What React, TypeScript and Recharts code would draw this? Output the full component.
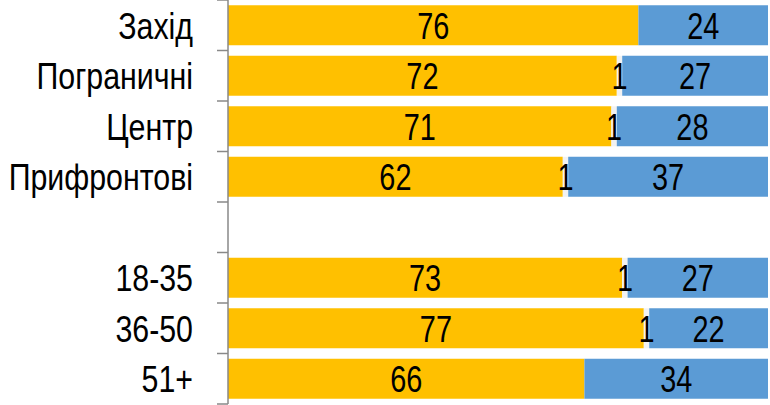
import { BarChart, Bar, XAxis, YAxis, LabelList } from "recharts";

// rows, top to bottom (empty row is the spacer between the two groups)
const groups = ["Захід", "Пограничні", "Центр", "Прифронтові", "", "18-35", "36-50", "51+"];
const yesShare = [76, 72, 71, 62, null, 73, 77, 66];
const unsureShare = [0, 1, 1, 1, null, 1, 1, 0];
const noShare = [24, 27, 28, 37, null, 27, 22, 34];

const data = groups.map((group, i) => ({
  group,
  yes: yesShare[i],
  unsure: unsureShare[i],
  no: noShare[i],
}));

const FONT = "'Liberation Sans', Arial, sans-serif";
const FONT_SIZE = 37;
const CHART_W = 768;
const CHART_H = 405;
const PLOT_H = 404;
const BAND = PLOT_H / groups.length;
const AXIS_GRAY = "#898989";

// no Arial Narrow installed, so squeeze Liberation Sans horizontally
function NarrowText({ x, y, anchor, squeeze, children }: any) {
  return (
    <text
      transform={`translate(${x},${y}) scale(${squeeze},1)`}
      dy="0.36em"
      textAnchor={anchor}
      fontSize={FONT_SIZE}
      fontFamily={FONT}
      fill="#000"
    >
      {children}
    </text>
  );
}

function GroupTick(props: any) {
  const { x, y, payload, index } = props;
  const half = BAND / 2;
  return (
    <g>
      <line x1={x - 11} x2={x} y1={y - half} y2={y - half} stroke={AXIS_GRAY} strokeWidth={1.5} />
      {index === groups.length - 1 && (
        <line x1={x - 11} x2={x} y1={y + half} y2={y + half} stroke={AXIS_GRAY} strokeWidth={1.5} />
      )}
      <NarrowText x={x - 35} y={y} anchor="end" squeeze={0.82}>
        {payload.value}
      </NarrowText>
    </g>
  );
}

function BarValue(props: any) {
  const { x, y, width, height, value } = props;
  if (value === null || value === undefined || value === 0) return null;
  return (
    <NarrowText x={x + width / 2} y={y + height / 2} anchor="middle" squeeze={0.78}>
      {value}
    </NarrowText>
  );
}

export default function App() {
  return (
    <div
      style={{
        position: "absolute",
        left: 0,
        top: 0,
        width: 770,
        height: 405,
        overflow: "hidden",
        background: "#fff",
      }}
    >
      <BarChart
        width={CHART_W}
        height={CHART_H}
        data={data}
        layout="vertical"
        margin={{ top: 0, right: 0, bottom: 1, left: 0 }}
        barCategoryGap="10.5%"
      >
        <XAxis type="number" hide domain={[0, 100]} allowDataOverflow />
        <YAxis
          type="category"
          dataKey="group"
          width={228}
          interval={0}
          tickLine={false}
          tickSize={0}
          tickMargin={0}
          axisLine={{ stroke: AXIS_GRAY, strokeWidth: 1.5 }}
          tick={<GroupTick />}
        />
        <Bar dataKey="yes" stackId="s" fill="#FFC000" isAnimationActive={false}>
          <LabelList dataKey="yes" content={<BarValue />} />
        </Bar>
        <Bar dataKey="unsure" stackId="s" fill="#F2F2F2" isAnimationActive={false}>
          <LabelList dataKey="unsure" content={<BarValue />} />
        </Bar>
        <Bar dataKey="no" stackId="s" fill="#5B9BD5" isAnimationActive={false}>
          <LabelList dataKey="no" content={<BarValue />} />
        </Bar>
      </BarChart>
    </div>
  );
}
